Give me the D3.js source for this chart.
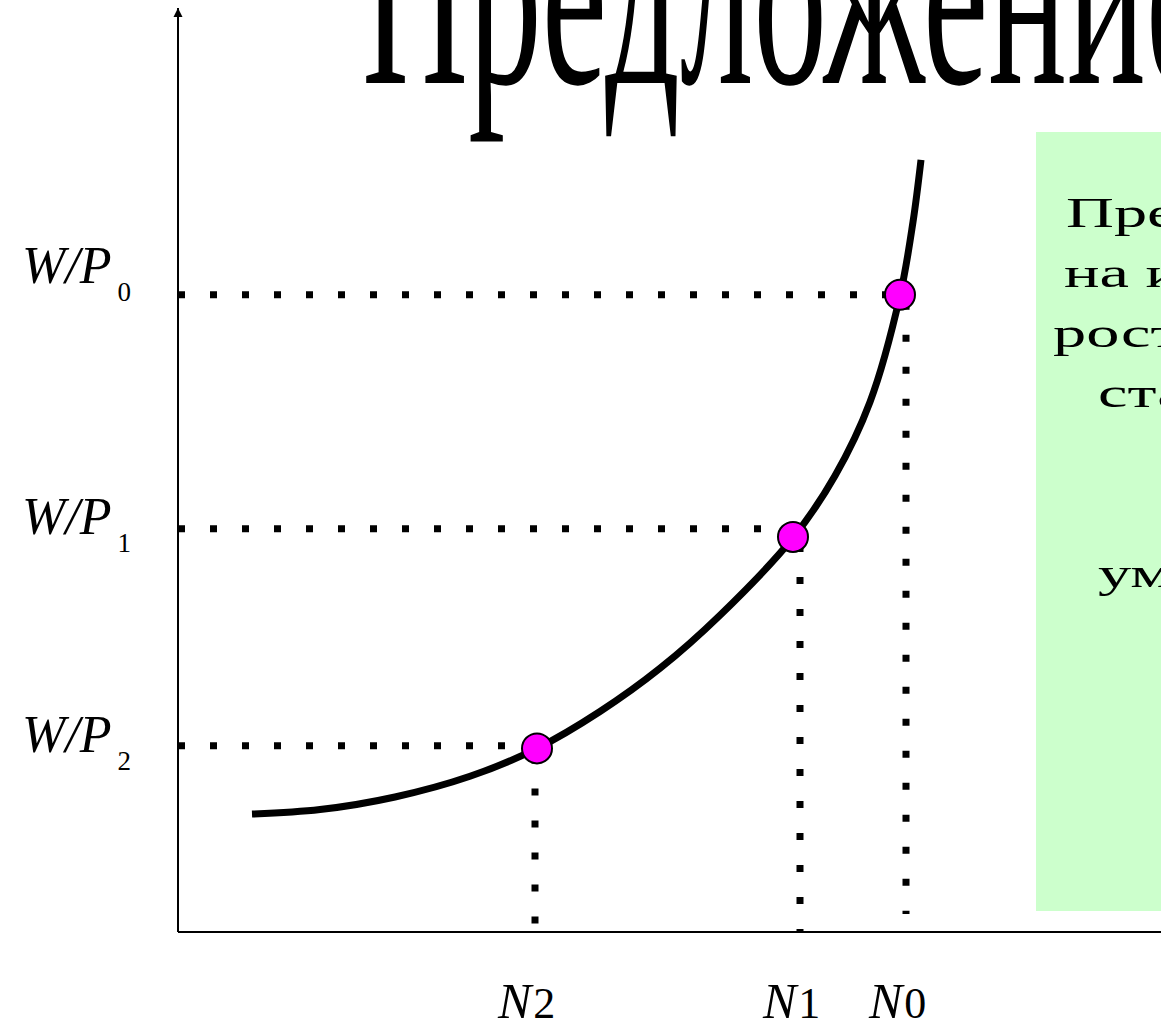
<!DOCTYPE html>
<html><head><meta charset="utf-8">
<script src="https://cdn.jsdelivr.net/npm/d3@7"></script>
<style>html,body{margin:0;padding:0;background:#fff;overflow:hidden}</style>
</head><body>
<script>
// ---- data ----
const curveN  = [7.4, 14.2, 21.7, 29.2, 35.9, 42.2, 48.2, 54.2, 61.5, 65.7, 69.2, 72.2, 73.5, 74.3];
const curveWP = [13.1, 13.6, 15.0, 17.3, 20.4, 24.5, 29.3, 35.2, 43.8, 50.7, 58.9, 70.7, 78.9, 85.8];
const wageLabels = ["0", "1", "2"];
const wageLevels = [70.8, 44.8, 20.7];
const pointN     = [72.2, 61.5, 35.9];
const pointWP    = [70.8, 43.9, 20.4];
const dropN      = [72.8, 62.2, 35.7];
const nLabels    = ["0", "1", "2"];
const titleText  = "Предложение труда";
const boxLines   = ["Предложение труда", "на индивидуальном", "росте реальной", "ставки", "", "", "уменьшается"];

// ---- layout ----
const W = 1161, H = 1023;
const x = d3.scaleLinear().domain([0, 100]).range([178, 1178]);
const y = d3.scaleLinear().domain([0, 100]).range([932, 32]);
const wageLabelDy = [-12, 5, 6];

const svg = d3.select("body").append("svg").attr("width", W).attr("height", H)
  .style("font-family", "'Liberation Serif','Times New Roman',serif");

// green box
svg.append("rect").attr("x", 1036).attr("y", 132).attr("width", 300).attr("height", 779)
  .attr("fill", "#ccffcc");
const bx = [1066, 1064, 1053, 1098, 1098, 1098, 1098];
boxLines.forEach((t, i) => {
  if (!t) return;
  svg.append("text").attr("transform", `translate(${bx[i]},${227 + i * 60}) scale(1.58,1)`)
    .attr("font-size", 42).attr("fill", "#000").text(t);
});

// title
svg.append("text").attr("transform", "translate(362,83) scale(0.535,1)")
  .attr("font-size", 275).attr("fill", "#000").text(titleText);

// axes
svg.append("defs").append("marker").attr("id", "arr").attr("viewBox", "0 0 10 10")
  .attr("refX", 10).attr("refY", 5).attr("markerWidth", 9).attr("markerHeight", 14)
  .attr("markerUnits", "userSpaceOnUse").attr("orient", "auto")
  .append("path").attr("d", "M0,0 L10,5 L0,10 Z").attr("fill", "#000");
svg.append("line").attr("x1", x(0)).attr("y1", y(0)).attr("x2", x(0)).attr("y2", 8)
  .attr("stroke", "#000").attr("stroke-width", 2).attr("marker-end", "url(#arr)");
svg.append("line").attr("x1", x(0)).attr("y1", y(0)).attr("x2", 1176).attr("y2", y(0))
  .attr("stroke", "#000").attr("stroke-width", 2).attr("marker-end", "url(#arr)");

// dotted guides
const dash = "7 25";
wageLevels.forEach((v, i) => {
  svg.append("line").attr("x1", x(0)).attr("x2", x(pointN[i]) - 8)
    .attr("y1", y(v)).attr("y2", y(v))
    .attr("stroke", "#000").attr("stroke-width", 7).attr("stroke-dasharray", dash);
  svg.append("line").attr("x1", x(dropN[i])).attr("x2", x(dropN[i]))
    .attr("y1", y(pointWP[i]) + 8).attr("y2", y(0) - (i === 0 ? 18 : 1))
    .attr("stroke", "#000").attr("stroke-width", 7).attr("stroke-dasharray", dash);
});

// curve
const pts = curveN.map((n, i) => [n, curveWP[i]]);
svg.append("path").datum(pts)
  .attr("d", d3.line().x(d => x(d[0])).y(d => y(d[1])).curve(d3.curveCatmullRom.alpha(0.5)))
  .attr("fill", "none").attr("stroke", "#000").attr("stroke-width", 7);

// points
pointN.forEach((n, i) => {
  svg.append("circle").attr("cx", x(n)).attr("cy", y(pointWP[i])).attr("r", 15)
    .attr("fill", "#ff00ff").attr("stroke", "#000").attr("stroke-width", 2);
});

// wage labels
wageLabels.forEach((s, i) => {
  const t = svg.append("text").attr("x", 22).attr("y", y(wageLevels[i]) + wageLabelDy[i])
    .attr("font-size", 52).attr("fill", "#000");
  t.append("tspan").attr("font-style", "italic").text("W/P");
  t.append("tspan").attr("dx", 6).attr("dy", 18).attr("font-size", 27).text(s);
});

// N labels
nLabels.forEach((s, i) => {
  const t = svg.append("text").attr("x", x(dropN[i]) - 37).attr("y", 1018)
    .attr("font-size", 50).attr("fill", "#000");
  t.append("tspan").attr("font-style", "italic").text("N");
  t.append("tspan").attr("dx", 2).attr("font-size", 44).text(s);
});
</script>
</body></html>
